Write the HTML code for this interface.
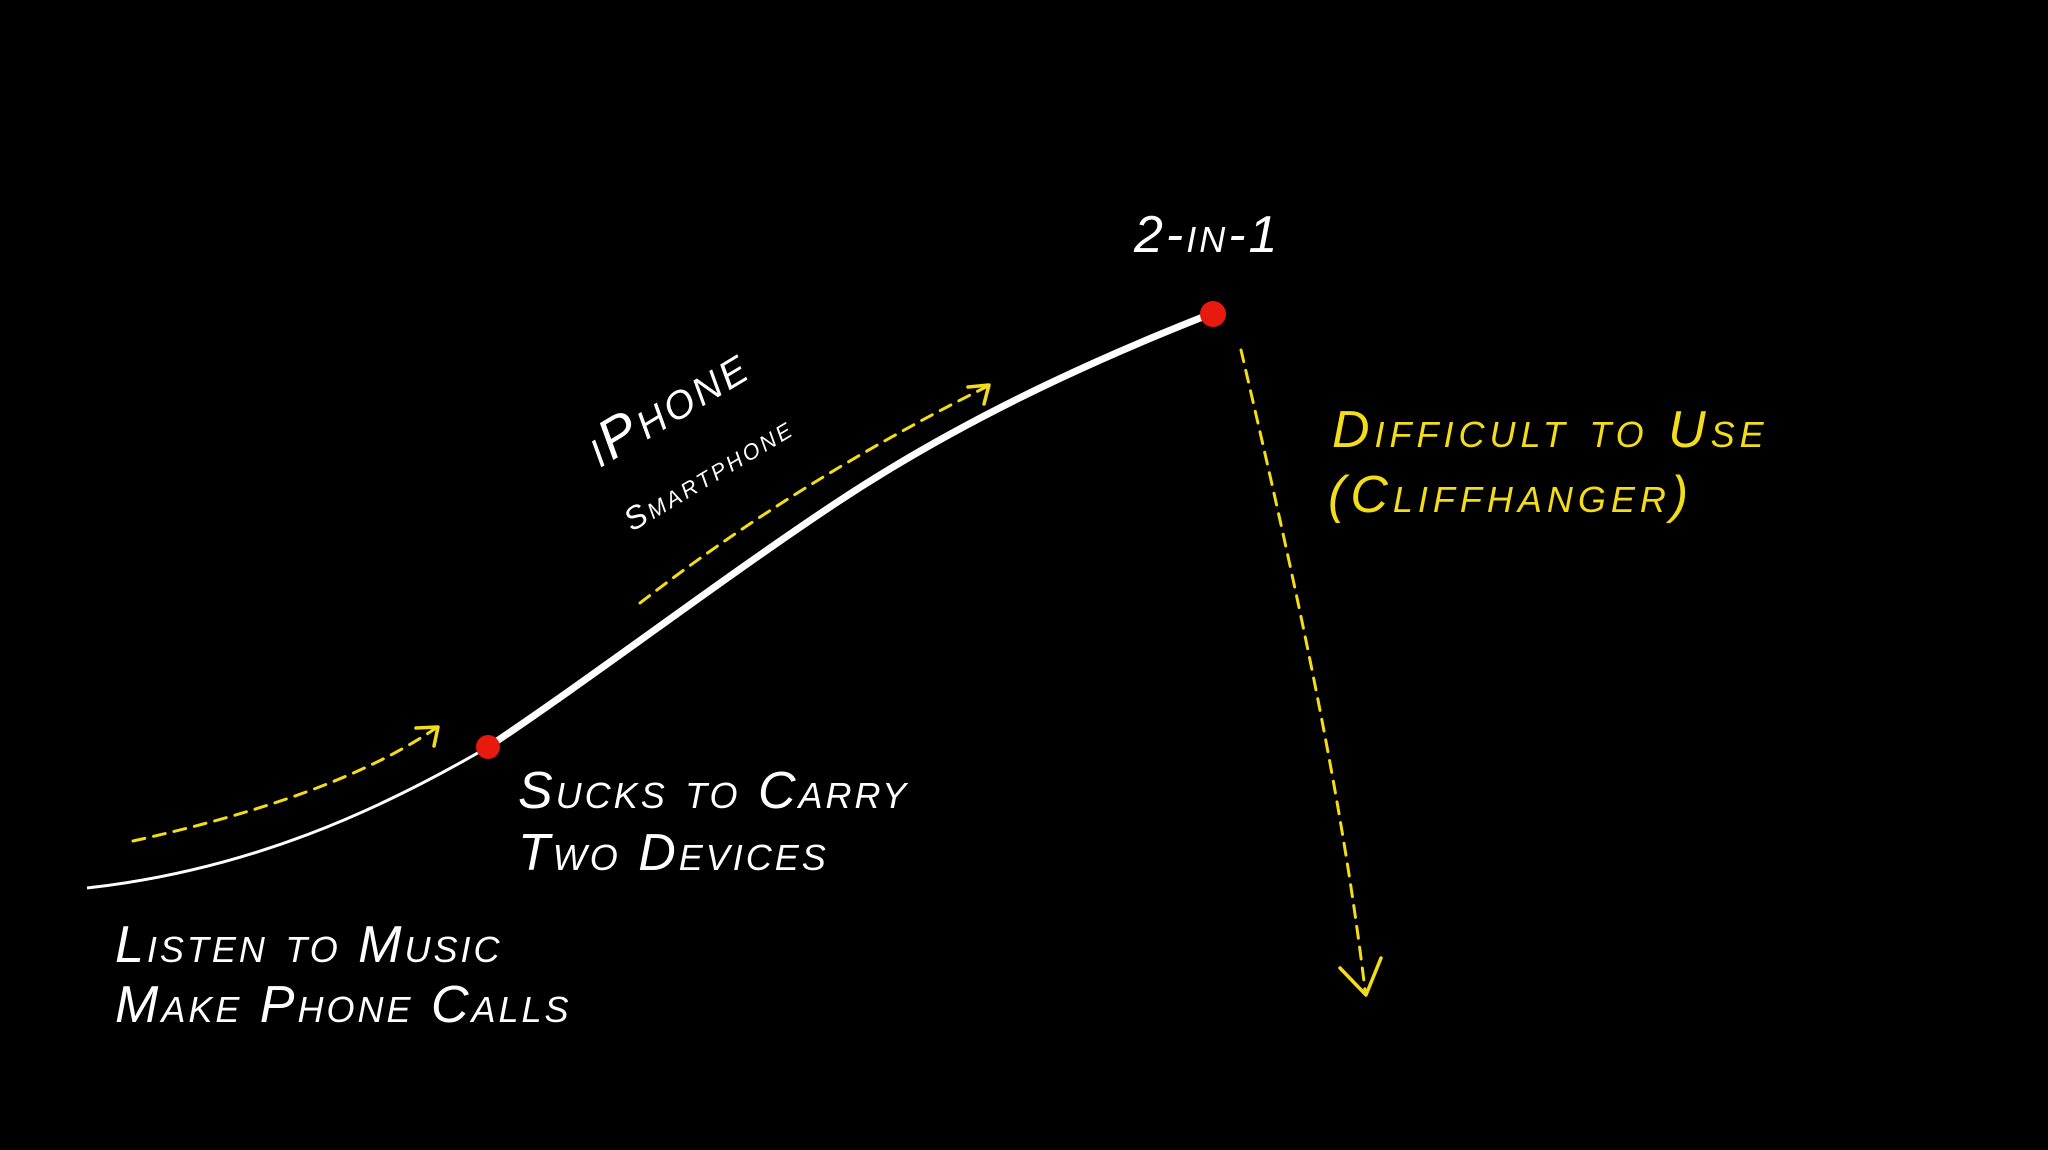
<!DOCTYPE html>
<html><head><meta charset="utf-8"><style>
html,body{margin:0;padding:0;background:#000;}
svg{display:block}
text{font-family:"Liberation Sans",sans-serif;font-style:italic;font-variant:small-caps;letter-spacing:3px;}
</style></head><body>
<svg width="2048" height="1150" viewBox="0 0 2048 1150" xmlns="http://www.w3.org/2000/svg">
<rect width="2048" height="1150" fill="#000"/>
<path d="M87,888 C250,870 380,810 488,747" fill="none" stroke="#fff" stroke-width="3"/>
<path d="M488,747 C600,672 720,580 836,503 S1080,365 1213,313" fill="none" stroke="#fff" stroke-width="7" stroke-linecap="round"/>
<circle cx="488" cy="747" r="12" fill="#e8190f"/>
<circle cx="1213" cy="314" r="13" fill="#e8190f"/>
<g fill="none" stroke="#f3dc1a" stroke-width="3" stroke-dasharray="12,9" stroke-linecap="round">
<path d="M133,841 C250,815 360,780 436,728"/>
<path d="M640,603 C760,510 880,440 988,386"/>
<path d="M1241,350 C1290,560 1340,780 1365,990"/>
</g>
<g fill="none" stroke="#f3dc1a" stroke-width="3.5" stroke-linecap="round" stroke-linejoin="round">
<path d="M416,728 L438,727 L434,746"/>
<path d="M968,387 L989,385 L984,404"/>
<path d="M1340,968 L1366,995 L1381,958"/>
</g>
<g fill="#fff" font-size="52">
<text x="115" y="962">Listen to Music</text>
<text x="115" y="1022">Make Phone Calls</text>
<text x="518" y="808">Sucks to Carry</text>
<text x="518" y="870">Two Devices</text>
<text x="1134" y="252">2-in-1</text>
<text transform="translate(600,468) rotate(-31)" font-size="56">iPhone</text>
<text transform="translate(632,532) rotate(-31)" font-size="32">Smartphone</text>
</g>
<g fill="#f3dc1a" font-size="52">
<text x="1332" y="447" style="letter-spacing:5px">Difficult to Use</text>
<text x="1328" y="512" style="letter-spacing:5px">(Cliffhanger)</text>
</g>
</svg>
</body></html>
